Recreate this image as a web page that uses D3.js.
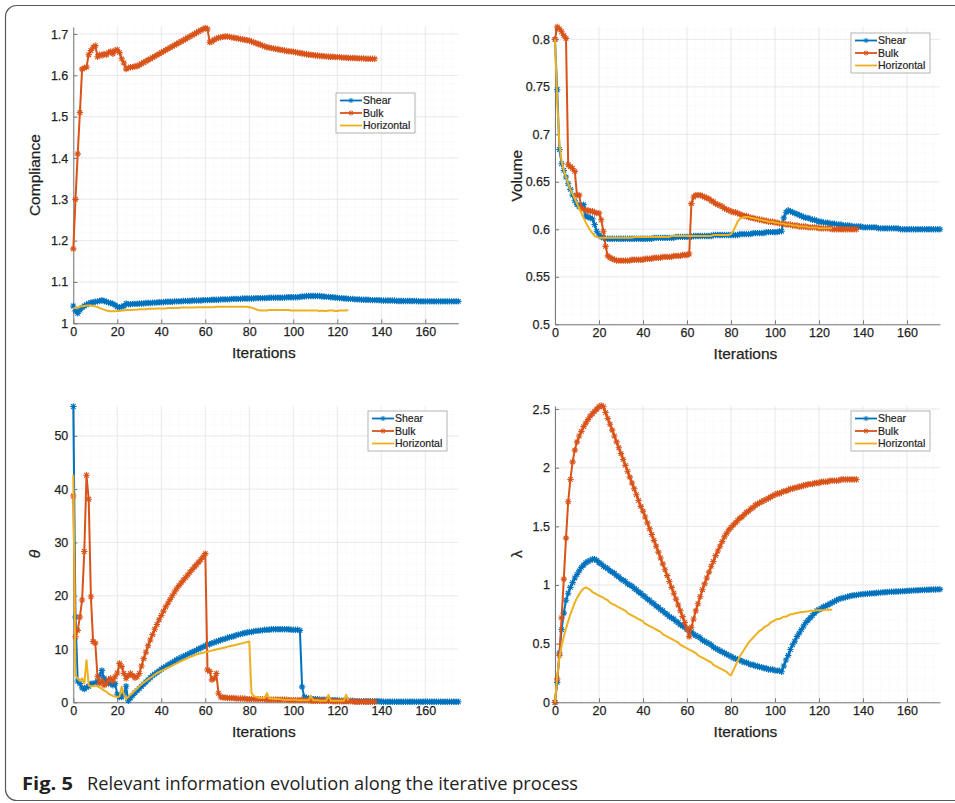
<!DOCTYPE html>
<html>
<head>
<meta charset="utf-8">
<script src="https://cdn.jsdelivr.net/npm/d3@7"></script>
<style>
  body { margin: 0; background: #fff; }
  svg text { font-family: "Liberation Sans", Arial, sans-serif; }
  svg text.caption { font-family: "Open Sans", sans-serif; }
</style>
</head>
<body>
<svg id="fig" width="955" height="803"></svg>
<script>
// ---- data (one value per iteration, iteration = index) ----
var iterTicks = [0, 20, 40, 60, 80, 100, 120, 140, 160];
var seriesNames = ["Shear", "Bulk", "Horizontal"];

var complianceTicks = [1, 1.1, 1.2, 1.3, 1.4, 1.5, 1.6, 1.7];
var complianceShear = [1.042,1.030,1.024,1.032,1.038,1.042,1.045,1.048,1.050,1.051,
1.052,1.053,1.054,1.056,1.054,1.052,1.050,1.049,1.047,1.044,
1.040,1.038,1.040,1.042,1.048,1.046,1.046,1.047,1.047,1.047,
1.048,1.048,1.048,1.049,1.049,1.049,1.050,1.050,1.050,1.051,
1.051,1.051,1.052,1.052,1.052,1.052,1.053,1.053,1.053,1.053,
1.054,1.054,1.054,1.054,1.055,1.055,1.055,1.055,1.055,1.056,
1.056,1.056,1.056,1.057,1.057,1.057,1.057,1.058,1.058,1.058,
1.058,1.058,1.059,1.059,1.059,1.059,1.059,1.060,1.060,1.060,
1.060,1.060,1.060,1.061,1.061,1.061,1.061,1.061,1.061,1.062,
1.062,1.062,1.062,1.062,1.062,1.062,1.062,1.063,1.063,1.063,
1.063,1.063,1.063,1.064,1.065,1.065,1.066,1.066,1.066,1.066,
1.066,1.066,1.066,1.065,1.065,1.064,1.064,1.063,1.063,1.062,
1.062,1.061,1.061,1.060,1.060,1.059,1.059,1.059,1.058,1.058,
1.058,1.057,1.057,1.057,1.057,1.056,1.056,1.056,1.056,1.056,
1.055,1.055,1.055,1.055,1.055,1.055,1.055,1.054,1.054,1.054,
1.054,1.054,1.054,1.054,1.054,1.054,1.054,1.053,1.053,1.053,
1.053,1.053,1.053,1.053,1.053,1.053,1.053,1.053,1.053,1.053,
1.053,1.053,1.053,1.053,1.053,1.053];
var complianceBulk = [1.18,1.30,1.41,1.51,1.615,1.618,1.62,1.65,1.66,1.668,
1.672,1.645,1.65,1.648,1.652,1.65,1.655,1.658,1.652,1.66,
1.662,1.655,1.64,1.63,1.615,1.618,1.62,1.62,1.622,1.622,
1.625,1.628,1.631,1.634,1.637,1.640,1.643,1.646,1.649,1.652,
1.655,1.658,1.661,1.664,1.667,1.670,1.673,1.676,1.679,1.682,
1.685,1.688,1.691,1.694,1.697,1.700,1.703,1.706,1.709,1.712,
1.715,1.712,1.680,1.682,1.686,1.689,1.691,1.692,1.693,1.694,
1.694,1.693,1.692,1.691,1.690,1.689,1.688,1.687,1.686,1.685,
1.684,1.682,1.680,1.678,1.676,1.674,1.672,1.670,1.668,1.667,
1.666,1.665,1.664,1.663,1.662,1.661,1.660,1.659,1.658,1.658,
1.657,1.656,1.655,1.654,1.653,1.652,1.651,1.650,1.650,1.649,
1.648,1.648,1.647,1.647,1.646,1.646,1.645,1.645,1.645,1.644,
1.644,1.644,1.643,1.643,1.643,1.642,1.642,1.642,1.642,1.641,
1.641,1.641,1.641,1.640,1.640,1.640,1.640,1.640];
var complianceHorizontal = [1.036,1.037,1.038,1.040,1.041,1.042,1.043,1.043,1.043,1.042,
1.041,1.039,1.037,1.035,1.033,1.031,1.030,1.029,1.029,1.029,
1.030,1.030,1.031,1.031,1.032,1.032,1.032,1.033,1.033,1.033,
1.034,1.034,1.034,1.034,1.035,1.035,1.035,1.035,1.036,1.036,
1.036,1.036,1.036,1.037,1.037,1.037,1.037,1.037,1.037,1.038,
1.038,1.038,1.038,1.038,1.038,1.038,1.039,1.039,1.039,1.039,
1.039,1.039,1.039,1.039,1.039,1.040,1.040,1.040,1.040,1.040,
1.040,1.040,1.040,1.040,1.040,1.040,1.040,1.040,1.040,1.040,
1.039,1.038,1.036,1.034,1.032,1.031,1.031,1.031,1.031,1.032,
1.032,1.032,1.032,1.032,1.032,1.032,1.032,1.032,1.032,1.031,
1.031,1.031,1.031,1.031,1.031,1.031,1.031,1.031,1.031,1.031,
1.031,1.031,1.030,1.031,1.030,1.030,1.031,1.031,1.031,1.030,
1.030,1.031,1.031,1.031,1.031,1.032];

var volumeTicks = [0.5, 0.55, 0.6, 0.65, 0.7, 0.75, 0.8];
var volumeShear = [0.800,0.747,0.684,0.669,0.662,0.655,0.648,0.642,0.636,0.630,
0.626,0.624,0.625,0.626,0.614,0.613,0.612,0.611,0.605,0.598,
0.594,0.592,0.591,0.590,0.590,0.590,0.590,0.590,0.590,0.590,
0.590,0.590,0.590,0.590,0.590,0.590,0.590,0.590,0.590,0.590,
0.590,0.590,0.590,0.590,0.590,0.591,0.591,0.591,0.591,0.591,
0.591,0.591,0.591,0.591,0.591,0.592,0.592,0.592,0.592,0.592,
0.592,0.592,0.592,0.593,0.593,0.593,0.593,0.593,0.593,0.593,
0.593,0.593,0.594,0.594,0.594,0.594,0.594,0.594,0.594,0.594,
0.594,0.594,0.594,0.594,0.595,0.595,0.595,0.595,0.595,0.595,
0.596,0.596,0.596,0.596,0.596,0.596,0.597,0.597,0.597,0.597,
0.597,0.597,0.598,0.598,0.612,0.618,0.620,0.619,0.618,0.617,
0.616,0.615,0.614,0.613,0.612,0.612,0.611,0.610,0.610,0.609,
0.608,0.608,0.607,0.607,0.607,0.606,0.606,0.606,0.605,0.605,
0.605,0.604,0.604,0.604,0.604,0.603,0.603,0.603,0.603,0.603,
0.602,0.602,0.602,0.602,0.602,0.602,0.602,0.601,0.601,0.601,
0.601,0.601,0.601,0.601,0.601,0.601,0.601,0.600,0.600,0.600,
0.600,0.600,0.600,0.600,0.600,0.600,0.600,0.600,0.600,0.600,
0.600,0.600,0.600,0.600,0.600,0.600];
var volumeBulk = [0.800,0.813,0.811,0.808,0.804,0.801,0.668,0.666,0.664,0.661,
0.636,0.636,0.622,0.621,0.620,0.620,0.619,0.619,0.618,0.617,
0.617,0.610,0.598,0.582,0.572,0.570,0.569,0.568,0.567,0.567,
0.567,0.567,0.567,0.567,0.567,0.568,0.568,0.568,0.568,0.568,
0.568,0.569,0.569,0.569,0.569,0.570,0.570,0.570,0.570,0.571,
0.571,0.571,0.571,0.571,0.572,0.572,0.572,0.572,0.573,0.573,
0.573,0.574,0.627,0.634,0.636,0.636,0.636,0.635,0.634,0.633,
0.632,0.630,0.629,0.627,0.626,0.625,0.624,0.622,0.621,0.620,
0.619,0.618,0.618,0.617,0.616,0.615,0.614,0.614,0.613,0.612,
0.612,0.611,0.611,0.610,0.610,0.609,0.609,0.608,0.608,0.608,
0.607,0.607,0.606,0.606,0.606,0.605,0.605,0.605,0.604,0.604,
0.604,0.603,0.603,0.603,0.603,0.602,0.602,0.602,0.602,0.602,
0.601,0.601,0.601,0.601,0.601,0.601,0.600,0.600,0.600,0.600,
0.600,0.600,0.600,0.600,0.600,0.600,0.600,0.600];
var volumeHorizontal = [0.800,0.735,0.690,0.672,0.662,0.655,0.648,0.642,0.637,0.632,
0.627,0.622,0.617,0.612,0.607,0.603,0.599,0.596,0.593,0.592,
0.591,0.591,0.591,0.591,0.591,0.591,0.591,0.591,0.591,0.591,
0.591,0.591,0.591,0.591,0.591,0.591,0.592,0.592,0.592,0.592,
0.592,0.592,0.592,0.592,0.592,0.592,0.592,0.592,0.592,0.592,
0.592,0.592,0.592,0.593,0.593,0.593,0.593,0.593,0.593,0.593,
0.593,0.593,0.593,0.593,0.593,0.593,0.593,0.593,0.593,0.593,
0.593,0.593,0.594,0.594,0.594,0.594,0.594,0.594,0.594,0.594,
0.595,0.598,0.603,0.608,0.611,0.612,0.613,0.613,0.613,0.612,
0.612,0.611,0.611,0.610,0.610,0.609,0.609,0.608,0.608,0.608,
0.607,0.607,0.606,0.606,0.606,0.605,0.605,0.605,0.604,0.604,
0.604,0.603,0.603,0.603,0.603,0.602,0.602,0.602,0.602,0.602,
0.601,0.601,0.601,0.601,0.601,0.601,0.601];

var thetaTicks = [0, 10, 20, 30, 40, 50];
var thetaShear = [55.5,16.0,4.0,3.5,2.7,2.5,2.8,3.0,3.5,3.5,
3.6,4.0,5.0,6.0,4.5,4.0,3.5,3.5,3.2,3.5,
1.5,1.0,1.0,1.5,3.0,0.3,0.8,1.3,1.8,2.2,
2.6,3.0,3.4,3.8,4.2,4.6,5.0,5.3,5.6,5.9,
6.2,6.5,6.7,7.0,7.2,7.5,7.7,8.0,8.2,8.4,
8.6,8.8,9.0,9.2,9.4,9.6,9.8,10.0,10.2,10.4,
10.6,10.8,10.9,11.1,11.2,11.4,11.5,11.7,11.8,11.9,
12.1,12.2,12.3,12.4,12.6,12.7,12.8,12.9,13.0,13.1,
13.2,13.2,13.3,13.4,13.4,13.5,13.5,13.6,13.6,13.6,
13.7,13.7,13.7,13.7,13.7,13.7,13.7,13.7,13.7,13.6,
13.6,13.6,13.6,13.5,2.9,1.0,0.8,0.7,0.7,0.6,
0.6,0.6,0.5,0.5,0.5,0.5,0.4,0.4,0.4,0.4,
0.4,0.3,0.3,0.3,0.3,0.3,0.3,0.3,0.2,0.2,
0.2,0.2,0.2,0.2,0.2,0.2,0.2,0.2,0.2,0.2,
0.1,0.1,0.1,0.1,0.1,0.1,0.1,0.1,0.1,0.1,
0.1,0.1,0.1,0.1,0.1,0.1,0.1,0.1,0.1,0.1,
0.1,0.1,0.1,0.1,0.1,0.1,0.1,0.1,0.1,0.1,
0.1,0.1,0.1,0.1,0.1,0.1];
var thetaBulk = [38.7,12.3,13.5,16.0,19.2,28.3,42.6,38.1,19.8,11.4,
11.1,4.8,3.5,4.0,3.2,3.5,4.2,4.5,4.0,4.8,
5.5,7.3,6.7,5.4,4.5,5.0,5.4,5.0,4.6,4.8,
5.4,6.8,8.2,9.4,10.6,11.7,12.7,13.7,14.6,15.5,
16.3,17.1,17.9,18.6,19.3,20.0,20.7,21.3,21.9,22.4,
22.9,23.4,23.9,24.4,24.9,25.4,25.8,26.3,26.8,27.3,
27.9,6.1,5.8,4.2,4.5,5.4,1.7,1.0,0.9,0.9,
0.8,0.8,0.8,0.8,0.7,0.7,0.7,0.7,0.7,0.6,
0.6,0.6,0.6,0.6,0.6,0.6,0.6,0.6,0.5,0.5,
0.5,0.5,0.5,0.5,0.5,0.5,0.5,0.5,0.4,0.4,
0.4,0.4,0.4,0.4,0.4,0.4,0.4,0.4,0.3,0.3,
0.3,0.3,0.3,0.3,0.3,0.3,0.3,0.3,0.2,0.2,
0.2,0.2,0.2,0.2,0.2,0.2,0.2,0.2,0.1,0.1,
0.1,0.1,0.1,0.1,0.1,0.1,0.1,0.1];
var thetaHorizontal = [42.7,5.0,4.5,4.0,4.5,3.5,7.9,3.2,3.0,3.0,
3.2,3.0,2.8,2.5,2.2,2.0,1.6,1.4,1.2,1.1,
1.0,1.1,2.9,1.5,0.6,1.0,1.4,1.8,2.2,2.6,
3.0,3.4,3.7,4.0,4.3,4.6,4.9,5.2,5.5,5.7,
5.9,6.1,6.3,6.5,6.7,6.9,7.1,7.3,7.5,7.7,
7.9,8.1,8.3,8.5,8.6,8.8,9.0,9.1,9.2,9.3,
9.4,9.5,9.6,9.7,9.8,9.9,10.0,10.1,10.2,10.3,
10.4,10.5,10.6,10.7,10.8,10.9,11.0,11.1,11.2,11.3,
11.4,1.7,1.2,1.0,0.9,0.8,0.8,0.8,1.7,0.7,
0.7,0.6,0.6,0.6,0.6,0.5,0.5,0.5,0.5,0.5,
0.5,0.5,0.4,0.4,0.4,0.4,0.4,0.4,1.2,0.4,
0.4,0.4,0.3,0.3,0.3,0.3,1.4,0.3,0.3,0.3,
0.3,0.3,0.3,0.3,1.4,0.3];

var lambdaTicks = [0, 0.5, 1, 1.5, 2, 2.5];
var lambdaShear = [0.00,0.17,0.42,0.62,0.76,0.87,0.93,0.98,1.02,1.06,
1.09,1.12,1.15,1.17,1.19,1.20,1.21,1.22,1.22,1.21,
1.19,1.18,1.16,1.15,1.14,1.12,1.11,1.10,1.08,1.07,
1.05,1.04,1.03,1.01,1.00,0.99,0.97,0.96,0.94,0.93,
0.91,0.90,0.88,0.87,0.85,0.84,0.82,0.81,0.79,0.78,
0.76,0.75,0.73,0.72,0.71,0.69,0.68,0.66,0.65,0.64,
0.62,0.61,0.60,0.58,0.57,0.56,0.55,0.53,0.52,0.51,
0.50,0.49,0.47,0.46,0.45,0.44,0.43,0.42,0.41,0.40,
0.39,0.38,0.37,0.37,0.36,0.35,0.34,0.34,0.33,0.32,
0.32,0.31,0.31,0.30,0.30,0.29,0.29,0.28,0.28,0.28,
0.27,0.27,0.27,0.26,0.31,0.36,0.40,0.45,0.49,0.52,
0.56,0.59,0.62,0.65,0.68,0.70,0.72,0.74,0.76,0.78,
0.79,0.80,0.815,0.82,0.83,0.84,0.85,0.86,0.87,0.88,
0.886,0.89,0.895,0.90,0.905,0.91,0.912,0.915,0.918,0.92,
0.922,0.924,0.926,0.928,0.929,0.93,0.932,0.934,0.935,0.937,
0.938,0.94,0.941,0.942,0.943,0.944,0.945,0.946,0.947,0.948,
0.95,0.951,0.952,0.953,0.954,0.955,0.956,0.957,0.958,0.959,
0.96,0.961,0.962,0.962,0.963,0.963];
var lambdaBulk = [0.00,0.20,0.40,0.72,1.05,1.40,1.71,1.90,2.05,2.15,
2.22,2.27,2.31,2.35,2.38,2.41,2.44,2.46,2.48,2.50,
2.52,2.53,2.52,2.47,2.42,2.37,2.32,2.27,2.22,2.17,
2.12,2.07,2.02,1.97,1.92,1.87,1.82,1.77,1.72,1.67,
1.63,1.58,1.53,1.48,1.43,1.38,1.33,1.28,1.23,1.18,
1.13,1.08,1.03,0.98,0.93,0.88,0.83,0.78,0.73,0.68,
0.63,0.56,0.64,0.71,0.78,0.84,0.90,0.96,1.01,1.06,
1.11,1.16,1.20,1.25,1.29,1.33,1.37,1.41,1.44,1.47,
1.49,1.51,1.53,1.55,1.57,1.58,1.60,1.62,1.63,1.65,
1.66,1.68,1.69,1.70,1.71,1.72,1.73,1.74,1.75,1.76,
1.77,1.78,1.78,1.79,1.80,1.80,1.81,1.82,1.82,1.83,
1.83,1.84,1.84,1.85,1.85,1.86,1.86,1.86,1.87,1.87,
1.87,1.88,1.88,1.88,1.88,1.89,1.89,1.89,1.89,1.89,
1.90,1.90,1.90,1.90,1.90,1.90,1.90,1.90];
var lambdaHorizontal = [0.00,0.22,0.38,0.48,0.56,0.63,0.69,0.75,0.80,0.85,
0.89,0.92,0.95,0.97,0.98,0.97,0.96,0.94,0.93,0.92,
0.91,0.90,0.89,0.88,0.87,0.85,0.84,0.83,0.82,0.81,
0.80,0.79,0.78,0.76,0.75,0.74,0.73,0.72,0.71,0.70,
0.69,0.67,0.66,0.65,0.64,0.63,0.62,0.61,0.60,0.58,
0.57,0.56,0.55,0.54,0.53,0.52,0.51,0.49,0.48,0.47,
0.46,0.45,0.44,0.43,0.42,0.40,0.39,0.38,0.37,0.36,
0.35,0.34,0.32,0.31,0.30,0.29,0.28,0.27,0.26,0.24,
0.23,0.27,0.31,0.35,0.39,0.42,0.45,0.48,0.51,0.53,
0.55,0.57,0.59,0.61,0.62,0.64,0.65,0.66,0.68,0.69,
0.70,0.71,0.71,0.72,0.73,0.73,0.74,0.75,0.75,0.76,
0.76,0.765,0.77,0.77,0.775,0.775,0.78,0.78,0.78,0.785,
0.785,0.785,0.785,0.79,0.79,0.79,0.79];

// ---- styles ----
var colors = ["#0072BD", "#D95319", "#EDB120"];
var hasMarker = [true, true, false];
var starPath = "M-3.2,0H3.2M0,-3.2V3.2M-2.3,-2.3L2.3,2.3M-2.3,2.3L2.3,-2.3";
var legendStar = "M-2.6,0H2.6M0,-2.6V2.6M-1.9,-1.9L1.9,1.9M-1.9,1.9L1.9,-1.9";

var panels = [
  { series: [complianceShear, complianceBulk, complianceHorizontal], yTicks: complianceTicks,
    yDomain: [1, 1.717], yMinor: 0.02, label: "Compliance", italic: false,
    left: 73.3, top: 27, bottom: 323.3, legend: [336, 93] },
  { series: [volumeShear, volumeBulk, volumeHorizontal], yTicks: volumeTicks,
    yDomain: [0.5, 0.813], yMinor: 0.01, label: "Volume", italic: false,
    left: 555, top: 27, bottom: 324.3, legend: [851, 33] },
  { series: [thetaShear, thetaBulk, thetaHorizontal], yTicks: thetaTicks,
    yDomain: [0, 55.6], yMinor: 2, label: "\u03b8", italic: true,
    left: 73.3, top: 406, bottom: 702.3, legend: [368, 411] },
  { series: [lambdaShear, lambdaBulk, lambdaHorizontal], yTicks: lambdaTicks,
    yDomain: [0, 2.526], yMinor: 0.1, label: "\u03bb", italic: false,
    left: 555, top: 406, bottom: 702.3, legend: [851, 411] }
];
var plotW = 385;

var svg = d3.select("#fig");

// outer rounded frame (continues past the right and bottom edges)
svg.append("rect")
  .attr("x", 5.5).attr("y", 5.5)
  .attr("width", 1000).attr("height", 795)
  .attr("rx", 11)
  .attr("fill", "none")
  .attr("stroke", "#5a5a5a")
  .attr("stroke-width", 1.2);

panels.forEach(function (p) {
  var x = d3.scaleLinear().domain([0, 175]).range([p.left, p.left + plotW]);
  var y = d3.scaleLinear().domain(p.yDomain).range([p.bottom, p.top]);
  var g = svg.append("g");

  // minor grid
  var grid = g.append("g");
  d3.range(0, 175.01, 4).forEach(function (v) {
    grid.append("line")
      .attr("x1", x(v)).attr("x2", x(v)).attr("y1", p.top).attr("y2", p.bottom)
      .attr("stroke", "#ececec").attr("stroke-width", 0.6).attr("stroke-dasharray", "1,1.5");
  });
  d3.range(p.yDomain[0], p.yDomain[1], p.yMinor).forEach(function (v) {
    grid.append("line")
      .attr("x1", p.left).attr("x2", p.left + plotW).attr("y1", y(v)).attr("y2", y(v))
      .attr("stroke", "#ececec").attr("stroke-width", 0.6).attr("stroke-dasharray", "1,1.5");
  });
  // major grid
  iterTicks.forEach(function (v) {
    grid.append("line")
      .attr("x1", x(v)).attr("x2", x(v)).attr("y1", p.top).attr("y2", p.bottom)
      .attr("stroke", "#e3e3e3").attr("stroke-width", 0.7);
  });
  p.yTicks.forEach(function (v) {
    grid.append("line")
      .attr("x1", p.left).attr("x2", p.left + plotW).attr("y1", y(v)).attr("y2", y(v))
      .attr("stroke", "#e3e3e3").attr("stroke-width", 0.7);
  });

  // axes
  var xAxis = g.append("g")
    .attr("transform", "translate(0," + p.bottom + ")")
    .call(d3.axisBottom(x).tickValues(iterTicks).tickSizeInner(-4).tickSizeOuter(0).tickPadding(4));
  var yAxis = g.append("g")
    .attr("transform", "translate(" + p.left + ",0)")
    .call(d3.axisLeft(y).tickValues(p.yTicks).tickFormat(function (d) { return String(d); })
      .tickSizeInner(-4).tickSizeOuter(0).tickPadding(5));
  [xAxis, yAxis].forEach(function (a) {
    a.select(".domain").attr("stroke", "#777").attr("stroke-width", 1);
    a.selectAll(".tick line").attr("stroke", "#777");
    a.selectAll(".tick text").attr("fill", "#1f1f1f").style("font-size", "12.5px")
      .attr("stroke", "#1f1f1f").attr("stroke-width", 0.25);
  });

  g.append("text")
    .attr("x", p.left + plotW / 2 - 2)
    .attr("y", p.bottom + 35)
    .attr("text-anchor", "middle")
    .attr("fill", "#1f1f1f")
    .attr("stroke", "#1f1f1f").attr("stroke-width", 0.25)
    .style("font-size", "15.5px")
    .text("Iterations");

  g.append("text")
    .attr("transform", "translate(" + (p.left - 33) + "," + ((p.top + p.bottom) / 2) + ") rotate(-90)")
    .attr("text-anchor", "middle")
    .attr("fill", "#1f1f1f")
    .attr("stroke", "#1f1f1f").attr("stroke-width", 0.25)
    .style("font-size", "15.5px")
    .style("font-style", p.italic ? "italic" : "normal")
    .text(p.label);

  // series
  var line = d3.line()
    .x(function (d, i) { return x(i); })
    .y(function (d) { return y(d); });

  p.series.forEach(function (vals, k) {
    var sg = g.append("g");
    sg.append("path")
      .datum(vals)
      .attr("d", line)
      .attr("fill", "none")
      .attr("stroke", colors[k])
      .attr("stroke-width", 2)
      .attr("stroke-linejoin", "round");
    if (hasMarker[k]) {
      sg.selectAll(".mk")
        .data(vals)
        .enter().append("path")
        .attr("class", "mk")
        .attr("d", starPath)
        .attr("transform", function (d, i) { return "translate(" + x(i) + "," + y(d) + ")"; })
        .attr("fill", "none")
        .attr("stroke", colors[k])
        .attr("stroke-width", 1.1);
    }
  });

  // legend
  var lg = g.append("g").attr("transform", "translate(" + p.legend[0] + "," + p.legend[1] + ")");
  lg.append("rect")
    .attr("width", 79).attr("height", 40)
    .attr("fill", "#fff")
    .attr("stroke", "#a0a0a0").attr("stroke-width", 0.8);
  seriesNames.forEach(function (name, k) {
    var ly = 7.5 + k * 12.5;
    lg.append("line")
      .attr("x1", 4).attr("x2", 26).attr("y1", ly).attr("y2", ly)
      .attr("stroke", colors[k]).attr("stroke-width", 1.8);
    if (hasMarker[k]) {
      lg.append("path").attr("d", legendStar)
        .attr("transform", "translate(15," + ly + ")")
        .attr("fill", "none").attr("stroke", colors[k]).attr("stroke-width", 1);
    }
    lg.append("text")
      .attr("x", 27).attr("y", ly + 3.6)
      .attr("fill", "#1f1f1f")
      .attr("stroke", "#1f1f1f").attr("stroke-width", 0.2)
      .style("font-size", "10.5px")
      .text(name);
  });
});

// caption
svg.append("text")
  .attr("class", "caption")
  .attr("x", 22).attr("y", 790)
  .attr("textLength", 51).attr("lengthAdjust", "spacingAndGlyphs")
  .attr("fill", "#222")
  .style("font-size", "17.5px")
  .style("font-weight", "bold")
  .text("Fig. 5");
svg.append("text")
  .attr("class", "caption")
  .attr("x", 87).attr("y", 790)
  .attr("textLength", 491).attr("lengthAdjust", "spacingAndGlyphs")
  .attr("fill", "#222")
  .style("font-size", "17.5px")
  .text("Relevant information evolution along the iterative process");
</script>
</body>
</html>
